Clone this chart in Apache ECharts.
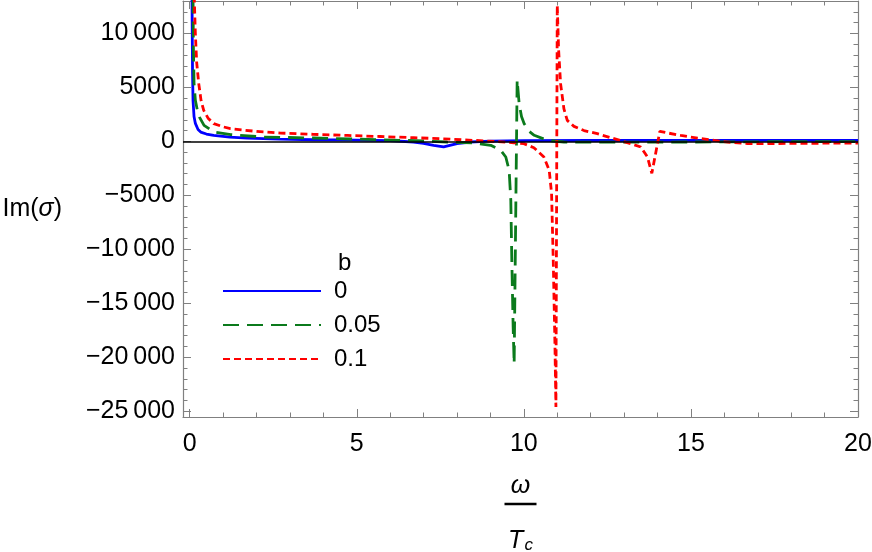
<!DOCTYPE html>
<html><head><meta charset="utf-8">
<script src="https://cdn.jsdelivr.net/npm/echarts@6/dist/echarts.min.js"></script>
<style>html,body{margin:0;padding:0;background:#fff}#c{width:872px;height:552px}</style>
</head><body><div id="c"></div>
<script>
// ---- data ----
const seriesNames = ['0', '0.05', '0.1'];
const legendTitle = 'b';

const dataB0 = [
  [0.05, 40000], [0.07, 13000], [0.085, 6500], [0.1, 3800], [0.13, 2300], [0.17, 1660],
  [0.25, 1100], [0.33, 860], [0.5, 680], [0.72, 550], [1.2, 400], [1.72, 300], [2.7, 200],
  [3.7, 150], [5, 110], [6, 70], [6.7, -60], [7.0, -180], [7.3, -370], [7.6, -520],
  [8.0, -210], [8.4, -60], [9, 30], [10, 60], [12, 80], [15, 90], [20, 100]
];
const dataB005 = [
  [0.08, 40000], [0.1, 13500], [0.11, 9000], [0.13, 5400], [0.17, 3800], [0.23, 2870],
  [0.3, 2200], [0.43, 1480], [0.73, 860], [1.23, 620], [2.2, 400], [3.7, 310], [5.7, 150],
  [7.0, 40], [7.7, -60], [8.5, -150], [9.01, -370], [9.31, -830], [9.46, -1450],
  [9.56, -2680], [9.61, -5460], [9.64, -11000], [9.68, -17200], [9.71, -20600],
  [9.8, 5700], [9.86, 3490], [9.93, 2300], [10.01, 1640], [10.15, 950], [10.31, 560],
  [10.71, 90], [11.2, -60], [12, -80], [14, -70], [16, -50], [18, -30], [20, -20]
];
const dataB01 = [
  [0.12, 40000], [0.14, 13000], [0.17, 9970], [0.21, 7300], [0.27, 5370], [0.34, 3800],
  [0.42, 2870], [0.55, 2150], [0.72, 1640], [1.0, 1350], [1.22, 1170], [2.0, 920],
  [2.72, 770], [3.7, 650], [4.72, 550], [5.7, 450], [6.7, 340], [7.6, 230], [8.5, 90],
  [9.2, -20], [9.7, -130], [10.0, -210], [10.3, -585], [10.6, -1450], [10.76, -2680],
  [10.83, -4840], [10.88, -11000], [10.93, -18700], [10.96, -24600],
  [11.0, 12600], [11.04, 8500], [11.1, 5330], [11.2, 3000], [11.3, 1940], [11.5, 1390],
  [11.8, 1000], [12.2, 710], [12.7, 250], [13.2, -210], [13.5, -520], [13.7, -1450],
  [13.83, -2960], [14.07, 925], [14.3, 780], [14.7, 550], [15.2, 300], [15.7, 90],
  [16.2, -100], [16.7, -210], [17.5, -200], [18.5, -180], [19.5, -160], [20, -150]
];

const xMajorTicks = [0, 5, 10, 15, 20];
const xMinorTicks = [1, 2, 3, 4, 6, 7, 8, 9, 11, 12, 13, 14, 16, 17, 18, 19];
const yMajorTicks = [-25000, -20000, -15000, -10000, -5000, 0, 5000, 10000];
const yTickLabels = ['\u221225\u2009000', '\u221220\u2009000', '\u221215\u2009000', '\u221210\u2009000', '\u22125000', '0', '5000', '10\u2009000'];
const yMinorTicks = [-24000, -23000, -22000, -21000, -19000, -18000, -17000, -16000,
  -14000, -13000, -12000, -11000, -9000, -8000, -7000, -6000, -4000, -3000, -2000, -1000,
  1000, 2000, 3000, 4000, 6000, 7000, 8000, 9000, 11000, 12000];

// ---- style ----
const FONT = '"Liberation Sans", Arial, sans-serif';
const FRAME = '#808080';
const X_MIN = -0.2, X_MAX = 20, Y_MIN = -25530, Y_MAX = 13000;
const LW = 2.8;

function xAx(pos, ticks, len, line, label, extra) {
  return Object.assign({
    type: 'value', position: pos, min: X_MIN, max: X_MAX, gridIndex: 0,
    axisLine: { show: line, onZero: false, lineStyle: { color: FRAME, width: 1.2 } },
    axisTick: { show: true, inside: true, length: len, customValues: ticks, lineStyle: { color: FRAME, width: 1 } },
    axisLabel: label ? { show: true, customValues: ticks, margin: 15, fontSize: 25, color: '#000', fontFamily: FONT } : { show: false },
    splitLine: { show: false }, minorTick: { show: false }
  }, extra || {});
}
function yAx(pos, ticks, len, line, label, extra) {
  return Object.assign({
    type: 'value', position: pos, min: Y_MIN, max: Y_MAX, gridIndex: 0,
    axisLine: { show: line, onZero: false, lineStyle: { color: FRAME, width: 1.2 } },
    axisTick: { show: true, inside: true, length: len, customValues: ticks, lineStyle: { color: FRAME, width: 1 } },
    axisLabel: label ? {
      show: true, customValues: ticks, margin: 8, fontSize: 25, color: '#000', fontFamily: FONT,
      formatter: function (v) { const i = yMajorTicks.indexOf(Math.round(v)); return i >= 0 ? yTickLabels[i] : ''; }
    } : { show: false },
    splitLine: { show: false }, minorTick: { show: false }
  }, extra || {});
}

const chart = echarts.init(document.getElementById('c'), null, { renderer: 'canvas' });
chart.setOption({
  animation: false,
  backgroundColor: '#fff',
  grid: { left: 183, right: 14, top: 1, bottom: 135, containLabel: false, outerBoundsMode: 'none' },
  title: { text: legendTitle, left: 333, top: 246, textStyle: { fontSize: 24, fontWeight: 'normal', color: '#000', fontFamily: FONT } },
  legend: {
    orient: 'vertical', left: 222, top: 279, padding: 0, itemWidth: 98, itemHeight: 14, itemGap: 10,
    selectedMode: false, data: seriesNames,
    itemStyle: { opacity: 0 },
    textStyle: { fontSize: 24, color: '#000', fontFamily: FONT, padding: [0, 0, 0, 8] }
  },
  xAxis: [
    xAx('bottom', xMajorTicks, 8, true, true, {
      name: '{w|\u03c9}\n{bar|}\n{t|T}{s|c}', nameLocation: 'middle', nameGap: 57,
      nameTextStyle: {
        rich: {
          w: { fontSize: 25, fontStyle: 'italic', fontFamily: FONT, color: '#000', lineHeight: 24 },
          bar: { width: 32, height: 2.5, backgroundColor: '#000', lineHeight: 12 },
          t: { fontSize: 25, fontStyle: 'italic', fontFamily: FONT, color: '#000', lineHeight: 62 },
          s: { fontSize: 17, fontStyle: 'italic', fontFamily: FONT, color: '#000', lineHeight: 62, padding: [8, 0, 0, 1] }
        }
      }
    }),
    xAx('bottom', xMinorTicks, 4.5, false, false),
    xAx('top', xMajorTicks, 8, true, false),
    xAx('top', xMinorTicks, 4.5, false, false)
  ],
  yAxis: [
    yAx('left', yMajorTicks, 8, true, true, {
      name: '{n|Im(}{s|\u03c3}{n|)}', nameLocation: 'middle', nameRotate: 0, nameGap: 121,
      nameTextStyle: {
        rich: {
          n: { fontSize: 25, fontFamily: FONT, color: '#000' },
          s: { fontSize: 25, fontStyle: 'italic', fontFamily: FONT, color: '#000' }
        }
      }
    }),
    yAx('left', yMinorTicks, 4.5, false, false),
    yAx('right', yMajorTicks, 8, true, false),
    yAx('right', yMinorTicks, 4.5, false, false)
  ],
  series: [
    {
      name: seriesNames[0], type: 'line', xAxisIndex: 0, yAxisIndex: 0, data: dataB0,
      symbol: 'none', clip: true, itemStyle: { color: '#0000ff' },
      lineStyle: { color: '#0000ff', width: LW, type: 'solid' },
      markLine: {
        silent: true, symbol: 'none', label: { show: false },
        lineStyle: { color: '#000', width: 1.5, type: 'solid' },
        data: [{ yAxis: 0 }]
      }
    },
    {
      name: seriesNames[1], type: 'line', xAxisIndex: 0, yAxisIndex: 0, data: dataB005,
      symbol: 'none', clip: true, itemStyle: { color: '#0b7a1c' },
      lineStyle: { color: '#0b7a1c', width: LW, type: [16, 8] }
    },
    {
      name: seriesNames[2], type: 'line', xAxisIndex: 0, yAxisIndex: 0, data: dataB01,
      symbol: 'none', clip: true, itemStyle: { color: '#ff0000' },
      lineStyle: { color: '#ff0000', width: LW, type: [7, 4] }
    }
  ]
});
</script>
</body></html>
